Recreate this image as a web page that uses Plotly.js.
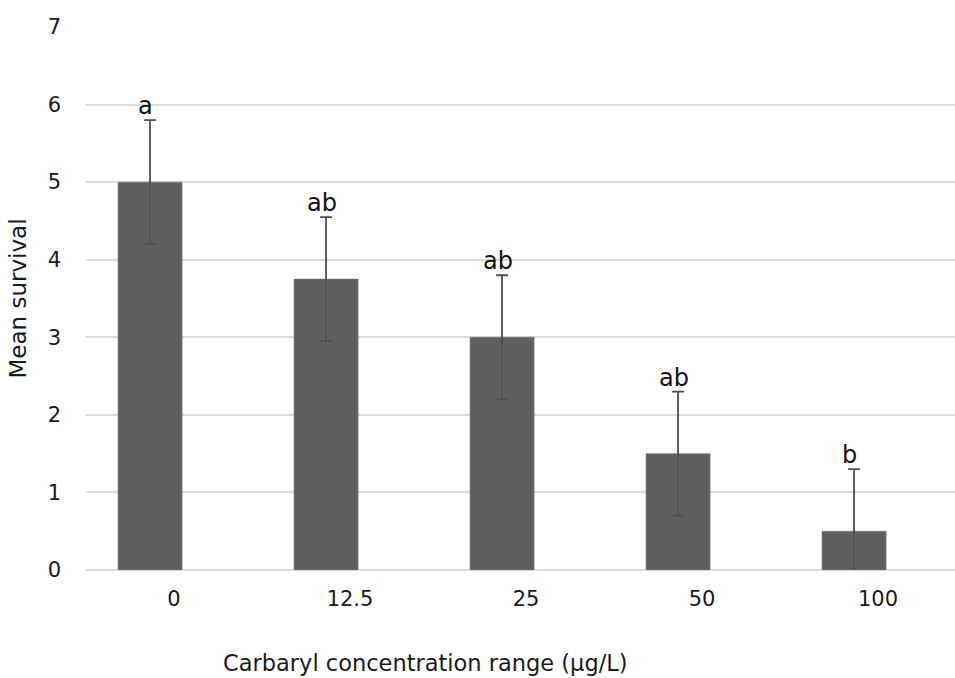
<!DOCTYPE html>
<html>
<head>
<meta charset="utf-8">
<script src="https://cdn.plot.ly/plotly-3.0.1.min.js"></script>
<style>html,body{margin:0;padding:0;background:#fff;}</style>
</head>
<body>
<div id="chart" style="width:955px;height:678px;"></div>
<script>
const categories = ["0", "12.5", "25", "50", "100"];
const meanSurvival = [5, 3.75, 3, 1.5, 0.5];
const errorValues = [0.8, 0.8, 0.8, 0.8, 0.8];
const groupLetters = ["a", "ab", "ab", "ab", "b"];
const yTicks = [0, 1, 2, 3, 4, 5, 6, 7];

const FONT = "DejaVu Sans, sans-serif";
const barWidth = 0.364;
const barOffset = -0.318;
const barCenterShift = barOffset + barWidth / 2;

const trace = {
  type: "bar",
  x: categories,
  y: meanSurvival,
  width: barWidth,
  offset: barOffset,
  marker: {color: "#5f5f5f", line: {color: "#7a7a7a", width: 0.6}},
  error_y: {type: "data", array: errorValues, visible: true, color: "#505050", thickness: 1.8, width: 6},
  hoverinfo: "none"
};

const annotations = categories.map((c, i) => ({
  xref: "x", yref: "y",
  x: i + barCenterShift - 0.025,
  y: meanSurvival[i] + errorValues[i],
  text: groupLetters[i],
  showarrow: false,
  yanchor: "bottom",
  yshift: -2,
  font: {family: FONT, size: 24, color: "#111"}
}));
annotations.push({
  xref: "paper", yref: "paper",
  x: (425 - 86) / 869, y: -(663 - 570) / 543,
  xanchor: "center", yanchor: "middle",
  text: "Carbaryl concentration range (μg/L)",
  showarrow: false,
  font: {family: FONT, size: 22.5, color: "#1a1a1a"}
});

const layout = {
  width: 955, height: 678,
  margin: {l: 86, r: 0, t: 27, b: 108, pad: 0},
  paper_bgcolor: "#fff", plot_bgcolor: "#fff",
  showlegend: false,
  xaxis: {
    type: "category",
    range: [-0.5, 4.4375],
    showgrid: false, zeroline: false, showline: false,
    ticks: "", ticklabelstandoff: 14,
    tickfont: {family: FONT, size: 21, color: "#1a1a1a"},
    fixedrange: true
  },
  yaxis: {
    range: [0, 7],
    tickvals: yTicks,
    ticktext: yTicks.map(String),
    showgrid: true, gridcolor: "#d9d9d9", gridwidth: 2,
    zeroline: true, zerolinecolor: "#d9d9d9", zerolinewidth: 2,
    showline: false, ticks: "", ticklabelstandoff: 24,
    tickfont: {family: FONT, size: 21, color: "#1a1a1a"},
    title: {text: "Mean survival", font: {family: FONT, size: 23, color: "#1a1a1a"}, standoff: 14},
    fixedrange: true
  },
  annotations: annotations
};

Plotly.newPlot("chart", [trace], layout, {displayModeBar: false, staticPlot: true});
</script>
</body>
</html>
